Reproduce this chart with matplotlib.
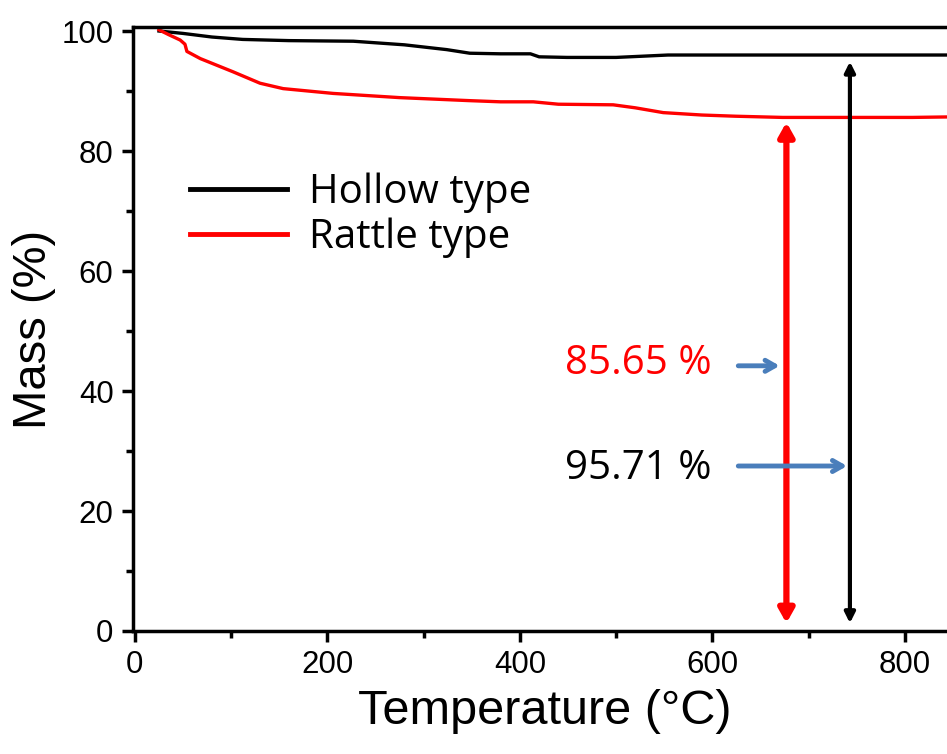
import matplotlib
matplotlib.use('Agg')
import matplotlib.pyplot as plt
from matplotlib.ticker import MultipleLocator

# Hollow type (black)
hollow_t = [25, 50, 80, 112, 160, 227, 280, 324, 348, 380, 411, 420, 449, 500, 554, 600, 700, 800, 900]
hollow_m = [100.0, 99.6, 99.0, 98.6, 98.4, 98.3, 97.7, 96.9, 96.3, 96.2, 96.2, 95.7, 95.6, 95.6, 96.0, 96.0, 96.0, 96.0, 96.0]

# Rattle type (red)
rattle_t = [25, 35, 47, 52, 54, 68, 102, 130, 154, 206, 275, 347, 380, 414, 440, 497, 520, 549, 589, 624, 673, 750, 808, 900]
rattle_m = [100.2, 99.4, 98.5, 97.8, 96.6, 95.4, 93.2, 91.3, 90.4, 89.6, 88.9, 88.4, 88.2, 88.2, 87.8, 87.7, 87.2, 86.4, 86.0, 85.8, 85.6, 85.6, 85.6, 85.8]

hollow_final = 95.71
rattle_final = 85.65
hollow_arrow_x = 743
rattle_arrow_x = 677

fig = plt.figure(figsize=(9.47, 7.54), dpi=100)
ax = fig.add_axes([133 / 947, 123 / 754, 868 / 947, 604 / 754])

ax.plot(hollow_t, hollow_m, color='black', lw=2.4, label='Hollow type')
ax.plot(rattle_t, rattle_m, color='#ff0000', lw=2.4, label='Rattle type')

ax.set_xlim(-2, 900)
ax.set_ylim(0, 100.67)

# double arrows showing residual mass
ax.annotate('', xy=(rattle_arrow_x, 84.8), xytext=(rattle_arrow_x, 1.3),
            arrowprops=dict(arrowstyle='<|-|>,head_length=0.8,head_width=0.45', color='#ff0000', lw=4.5,
                            shrinkA=0, shrinkB=0))
ax.annotate('', xy=(hollow_arrow_x, 94.9), xytext=(hollow_arrow_x, 1.3),
            arrowprops=dict(arrowstyle='<|-|>,head_length=0.6,head_width=0.3', color='black', lw=3,
                            shrinkA=0, shrinkB=0))

# labels with blue pointers
ax.text(447, 44.6, '%.2f %%' % rattle_final, color='#ff0000', fontsize=29,
        family='Open Sans', va='center', ha='left')
ax.annotate('', xy=(670, 44.2), xytext=(627, 44.2),
            arrowprops=dict(arrowstyle='->,head_length=0.7,head_width=0.4', color='#4a7ebb', lw=3.5,
                            shrinkA=0, shrinkB=0))
ax.text(447, 27.0, '%.2f %%' % hollow_final, color='black', fontsize=29,
        family='Open Sans', va='center', ha='left')
ax.annotate('', xy=(740, 27.5), xytext=(627, 27.5),
            arrowprops=dict(arrowstyle='->,head_length=0.7,head_width=0.4', color='#4a7ebb', lw=3.5,
                            shrinkA=0, shrinkB=0))

leg = ax.legend(loc='upper left', bbox_to_anchor=(0.047, 0.785), frameon=False,
                prop={'family': 'Open Sans', 'size': 29}, handlelength=2.4,
                handletextpad=0.55, labelspacing=0.1, borderaxespad=0)
for line in leg.get_lines():
    line.set_linewidth(3.5)

ax.set_xlabel('Temperature (°C)', fontsize=35, family='Liberation Sans')
ax.xaxis.set_label_coords((545 - 133) / 868, -(712 - 631) / 604)
ax.xaxis.label.set_va('center')
ax.set_ylabel('Mass (%)', fontsize=34, family='Liberation Sans')
ax.yaxis.set_label_coords(-(133 - 34) / 868, 0.5)
ax.yaxis.label.set_va('center')

ax.xaxis.set_major_locator(MultipleLocator(200))
ax.xaxis.set_minor_locator(MultipleLocator(100))
ax.yaxis.set_major_locator(MultipleLocator(20))
ax.yaxis.set_minor_locator(MultipleLocator(10))
ax.tick_params(which='major', direction='out', length=8, width=2.5, labelsize=22.5, pad=6)
ax.tick_params(which='minor', direction='out', length=5, width=2.5)
for lab in ax.get_xticklabels() + ax.get_yticklabels():
    lab.set_family('Liberation Sans')

for side in ['left', 'bottom', 'top']:
    ax.spines[side].set_linewidth(2.5)
ax.spines['right'].set_visible(False)

fig.savefig('out.png', dpi=100)
